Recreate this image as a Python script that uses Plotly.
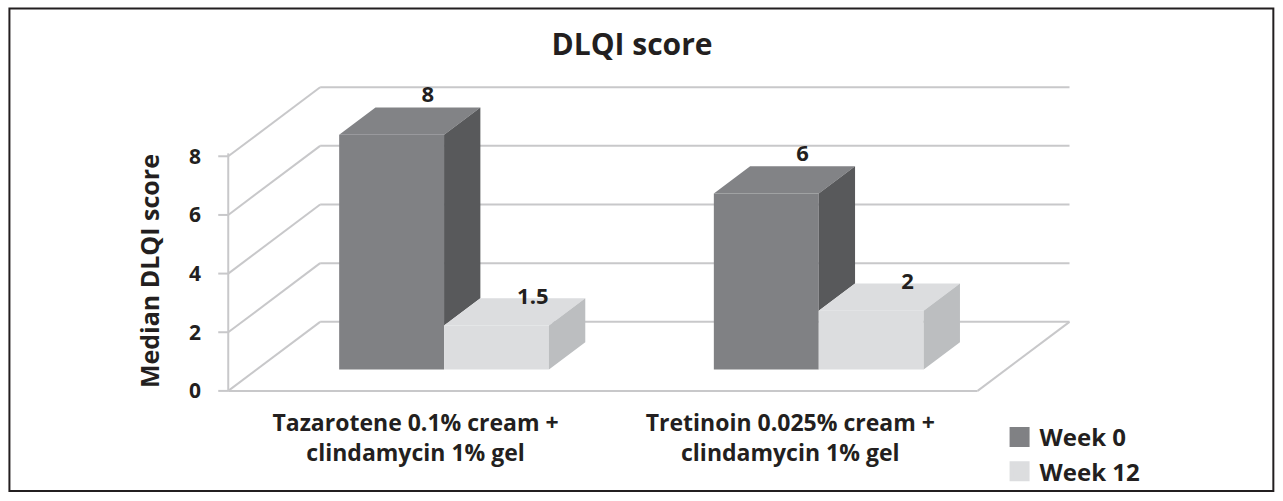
import plotly.graph_objects as go

# ---------------- data ----------------
categories = ["Tazarotene 0.1% cream +<br>clindamycin 1% gel",
              "Tretinoin 0.025% cream +<br>clindamycin 1% gel"]
series_names = ["Week 0", "Week 12"]
week0 = [8, 6]
week12 = [1.5, 2]
y_ticks = [0, 2, 4, 6, 8]
chart_title = "DLQI score"
y_title = "Median DLQI score"

# ---------------- style / projection ----------------
W, H = 1283, 501
FONT = "Open Sans"
TXT = "#231f20"
GRID = "#c8c8ca"
DX = 0.2453      # x-units per unit of depth (oblique projection)
DY = 2.355       # value-units per unit of depth
BAR_W = 0.28
Z_FRONT, Z_BACK = 0.31, 0.705
FRONT = ["#808184", "#dcdddf"]
TOP = ["#828386", "#dcdddf"]
SIDE = ["#58595b", "#bcbec0"]

UNIT_PX = 29.3                     # px per value unit
X0_PX, Y0_PX = 228.0, 391.0        # page position of (x=0, value=0)
L, T, R, B = 216.75, 80.4, 192.5, 0
PW, PH = W - L - R, H - T - B
XR = [-0.03, 2.3]
YR = [-(H - B - Y0_PX) / UNIT_PX, (Y0_PX - T) / UNIT_PX]


def proj(x, v, z):
    return x + z * DX, v + z * DY


def px2paper(px, py):
    return (px - L) / PW, (H - B - py) / PH


series = [week0, week12]
n_cat = len(categories)
n_ser = len(series)

fig = go.Figure()

# front faces (real bars, shifted to the bar's depth)
for s in range(n_ser):
    xs = [i + 0.5 - BAR_W * n_ser / 2 + s * BAR_W + BAR_W / 2 + Z_FRONT * DX for i in range(n_cat)]
    fig.add_trace(go.Bar(
        x=xs, y=series[s], base=[Z_FRONT * DY] * n_cat, width=BAR_W,
        marker=dict(color=FRONT[s], line=dict(width=0)),
        name=series_names[s], legendgroup=series_names[s], showlegend=False,
        hoverinfo="skip"))

# top and side faces
for s in range(n_ser):
    tx, ty, sx, sy = [], [], [], []
    for i in range(n_cat):
        v = series[s][i]
        x0 = i + 0.5 - BAR_W * n_ser / 2 + s * BAR_W
        x1 = x0 + BAR_W
        for (xx, zz) in [(x0, Z_FRONT), (x1, Z_FRONT), (x1, Z_BACK), (x0, Z_BACK), (x0, Z_FRONT)]:
            a, b = proj(xx, v, zz)
            tx.append(a); ty.append(b)
        tx.append(None); ty.append(None)
        lo = min(series[s + 1][i], v) if s + 1 < n_ser else 0
        for (vv, zz) in [(lo, Z_FRONT), (lo, Z_BACK), (v, Z_BACK), (v, Z_FRONT), (lo, Z_FRONT)]:
            a, b = proj(x1, vv, zz)
            sx.append(a); sy.append(b)
        sx.append(None); sy.append(None)
    fig.add_trace(go.Scatter(x=tx, y=ty, mode="lines", fill="toself", fillcolor=TOP[s],
                             line=dict(width=0), showlegend=False, hoverinfo="skip"))
    fig.add_trace(go.Scatter(x=sx, y=sy, mode="lines", fill="toself", fillcolor=SIDE[s],
                             line=dict(width=0), showlegend=False, hoverinfo="skip"))

# data labels
for s in range(n_ser):
    lx, ly = [], []
    for i in range(n_cat):
        x0 = i + 0.5 - BAR_W * n_ser / 2 + s * BAR_W
        a, b = proj(x0 + BAR_W / 2, series[s][i], Z_BACK)
        lx.append(a); ly.append(b)
    fig.add_trace(go.Scatter(
        x=lx, y=ly, mode="text", text=[f"{v:g}" for v in series[s]],
        textposition="top center" if s == 0 else "middle center",
        textfont=dict(family=FONT, size=22, color=TXT, weight="bold"),
        showlegend=False, hoverinfo="skip", cliponaxis=False))

# legend entries
for s in range(n_ser):
    fig.add_trace(go.Scatter(
        x=[None], y=[None], mode="markers", name=series_names[s], legendgroup=series_names[s],
        marker=dict(symbol="square", size=16, color=FRONT[s], line=dict(width=4, color=FRONT[s]))))

# walls / floor / gridlines (drawn below bars)
shapes = []
gl = dict(color=GRID, width=2)
x_end = float(n_cat)
for t in y_ticks:
    bx0, by0 = proj(0, t, 1)
    bx1, by1 = proj(x_end, t, 1)
    shapes.append(dict(type="line", xref="x", yref="y", x0=bx0, y0=by0, x1=bx1, y1=by1, line=gl, layer="below"))
    shapes.append(dict(type="line", xref="x", yref="y", x0=0, y0=t, x1=bx0, y1=by0, line=gl, layer="below"))
    shapes.append(dict(type="line", xref="x", yref="y", x0=0, y0=t, x1=-0.0267, y1=t, line=gl, layer="below"))
# front floor edge and right floor edge
fx, fy = proj(x_end, 0, 1)
shapes.append(dict(type="line", xref="x", yref="y", x0=0, y0=0, x1=x_end, y1=0, line=gl, layer="below"))
shapes.append(dict(type="line", xref="x", yref="y", x0=x_end, y0=0, x1=fx, y1=fy, line=gl, layer="below"))
# vertical axis line
shapes.append(dict(type="line", xref="x", yref="y", x0=0, y0=0, x1=0, y1=max(y_ticks) + 0.1, line=gl, layer="below"))

# outer border
bx0, by0 = px2paper(9, 491)
bx1, by1 = px2paper(1274, 9)
shapes.append(dict(type="rect", xref="paper", yref="paper", x0=bx0, y0=by0, x1=bx1, y1=by1,
                   line=dict(color="#231f20", width=2), fillcolor="rgba(0,0,0,0)"))

ax, ay = px2paper(148, 271)
lgx, lgy = px2paper(1000, 494)
_, xpos = px2paper(0, Y0_PX + 0.3 * UNIT_PX)

fig.update_layout(
    width=W, height=H,
    margin=dict(l=L, r=R, t=T, b=B, pad=0, autoexpand=False),
    paper_bgcolor="white", plot_bgcolor="white",
    title=dict(text=chart_title, x=632 / W, xanchor="center", y=1 - 44 / H,
               yanchor="middle",
               font=dict(family=FONT, size=30, color=TXT, weight="bold")),
    xaxis=dict(range=XR, tickvals=[i + 0.5 for i in range(n_cat)], ticktext=categories,
               anchor="free", position=xpos, automargin=False,
               showgrid=False, zeroline=False, showline=False, ticks="",
               ticklabelstandoff=7,
               tickfont=dict(family=FONT, size=23, color=TXT, weight="bold")),
    yaxis=dict(range=YR, tickvals=y_ticks, ticktext=[str(t) for t in y_ticks],
               automargin=False,
               showgrid=False, zeroline=False, showline=False, ticks="",
               ticklabelstandoff=15,
               tickfont=dict(family=FONT, size=21, color=TXT, weight="bold")),
    shapes=shapes,
    annotations=[dict(text=y_title, xref="paper", yref="paper", x=ax, y=ay, textangle=-90,
                      showarrow=False, xanchor="center", yanchor="middle",
                      font=dict(family=FONT, size=25, color=TXT, weight="bold"))],
    legend=dict(x=lgx, y=lgy, xanchor="left", yanchor="bottom", bgcolor="rgba(0,0,0,0)",
                font=dict(family=FONT, size=24, color=TXT, weight="bold"),
                itemwidth=30, tracegroupgap=0),
    showlegend=True,
)

fig.write_html("out.html", config={"displayModeBar": False},
               post_script="document.body.style.margin='0px';")
